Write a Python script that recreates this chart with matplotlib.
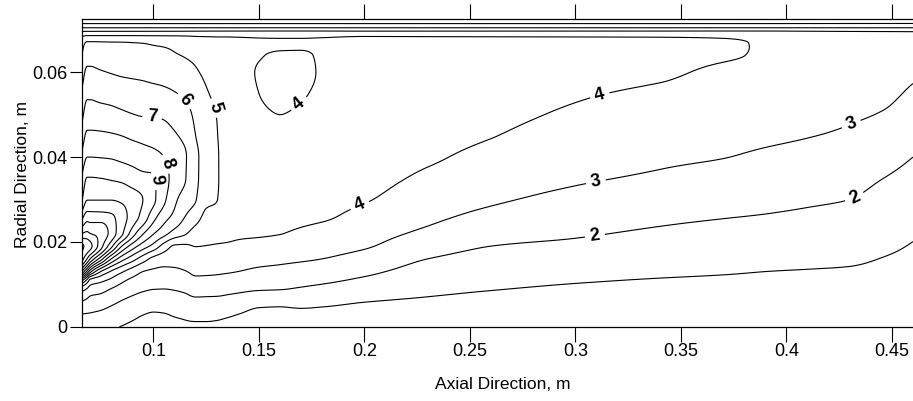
import numpy as np
import matplotlib
matplotlib.use("Agg")
import matplotlib.pyplot as plt

plt.rcParams["font.family"] = ["Liberation Sans", "DejaVu Sans"]

# ── grid nodes (m) ───────────────────────────────────────────────────────
x_nodes = [0.066, 0.0685, 0.070, 0.075, 0.080, 0.085, 0.090, 0.095, 0.100, 0.105,
           0.110, 0.115, 0.120, 0.125, 0.130, 0.135, 0.140, 0.150, 0.160,
           0.170, 0.180, 0.200, 0.230, 0.260, 0.300, 0.340, 0.370, 0.390,
           0.410, 0.430, 0.446, 0.460]
r_nodes = [0.0, 0.003, 0.006, 0.009, 0.011, 0.013, 0.016, 0.019, 0.022,
           0.026, 0.030, 0.035, 0.040, 0.045, 0.050, 0.055, 0.060, 0.064,
           0.067, 0.069, 0.0705, 0.0725]

# ── field values, one list per axial station ─────────────────────────────
col_0660 = [1.5, 2.0, 3.0, 4.5, 7.5, 12.0, 15.5, 16.2, 14.0, 11.6, 9.9, 9.1, 8.2, 7.4, 6.7, 6.1, 5.5, 5.0, 4.6, 3.6, 2.0, 0.0]
col_0685 = [1.47, 1.97, 2.8, 4.0, 5.8, 9.8, 14.0, 15.7, 14.2, 12.5, 10.96, 10.05, 9.0, 8.2, 7.48, 6.81, 6.2, 5.6, 5.08, 3.7, 2.0, 0.0]
col_0700 = [1.45, 1.95, 2.64, 3.65, 4.8, 8.4, 13.0, 15.3, 14.0, 12.46, 10.96, 10.05, 9.0, 8.2, 7.48, 6.81, 6.2, 5.6, 5.08, 3.7, 2.0, 0.0]
col_0750 = [1.3, 1.83, 2.5, 3.4, 4.29, 6.0, 10.5, 13.4, 13.75, 12.4, 10.96, 10.0, 8.97, 8.17, 7.43, 6.67, 6.07, 5.5, 5.06, 3.7, 2.0, 0.0]
col_0800 = [1.1, 1.63, 2.23, 3.0, 3.8, 4.88, 8.0, 11.3, 12.6, 12.15, 10.96, 9.9, 8.92, 8.11, 7.32, 6.6, 5.96, 5.47, 5.04, 3.7, 2.0, 0.0]
col_0850 = [0.97, 1.44, 1.96, 2.65, 3.22, 4.13, 6.42, 9.0, 11.2, 11.5, 10.8, 9.78, 8.77, 8.0, 7.17, 6.5, 5.87, 5.41, 5.03, 3.7, 2.0, 0.0]
col_0900 = [0.8, 1.24, 1.75, 2.35, 2.81, 3.5, 5.43, 7.54, 9.5, 10.5, 10.4, 9.5, 8.62, 7.84, 7.03, 6.42, 5.82, 5.36, 5.0, 3.7, 2.0, 0.0]
col_0950 = [0.65, 1.04, 1.57, 2.15, 2.57, 3.0, 4.5, 6.5, 8.1, 9.67, 10.0, 9.26, 8.44, 7.72, 6.94, 6.35, 5.77, 5.3, 4.97, 3.7, 2.0, 0.0]
col_1000 = [0.55, 0.93, 1.47, 2.04, 2.44, 2.84, 3.73, 5.67, 7.07, 8.38, 9.2, 9.1, 8.3, 7.6, 6.94, 6.3, 5.67, 5.22, 4.9, 3.7, 2.0, 0.0]
col_1050 = [0.6, 0.97, 1.49, 2.02, 2.4, 2.77, 3.45, 4.6, 6.33, 7.4, 8.2, 8.45, 8.0, 7.43, 6.85, 6.2, 5.62, 5.17, 4.85, 3.7, 2.0, 0.0]
col_1100 = [0.7, 1.1, 1.58, 2.07, 2.4, 2.82, 3.36, 3.9, 5.6, 6.75, 7.2, 7.55, 7.4, 7.1, 6.6, 6.05, 5.5, 5.06, 4.8, 3.7, 2.0, 0.0]
col_1150 = [0.8, 1.19, 1.68, 2.19, 2.58, 2.96, 3.42, 3.88, 5.11, 6.0, 6.57, 7.05, 7.08, 6.8, 6.35, 5.84, 5.32, 4.95, 4.7, 3.7, 2.0, 0.0]
col_1200 = [0.75, 1.35, 1.8, 2.45, 2.85, 3.15, 3.6, 4.02, 4.6, 5.4, 6.05, 6.2, 6.2, 6.0, 5.8, 5.5, 5.1, 4.8, 4.5, 3.7, 2.0, 0.0]
col_1250 = [0.75, 1.35, 1.8, 2.4, 2.85, 3.12, 3.55, 3.98, 4.4, 4.8, 5.2, 5.55, 5.6, 5.55, 5.4, 5.1, 4.8, 4.55, 4.4, 3.7, 2.0, 0.0]
col_1300 = [0.7, 1.3, 1.78, 2.38, 2.82, 3.1, 3.52, 3.93, 4.3, 4.7, 5.02, 5.08, 5.08, 5.04, 4.98, 4.75, 4.5, 4.38, 4.32, 3.7, 2.0, 0.0]
col_1350 = [0.55, 1.18, 1.72, 2.28, 2.7, 3.07, 3.48, 3.9, 4.2, 4.45, 4.65, 4.72, 4.72, 4.68, 4.6, 4.45, 4.35, 4.3, 4.3, 3.7, 2.0, 0.0]
col_1400 = [0.45, 1.02, 1.6, 2.22, 2.6, 3.0, 3.42, 3.85, 4.12, 4.35, 4.5, 4.55, 4.55, 4.5, 4.4, 4.3, 4.22, 4.22, 4.25, 3.7, 2.0, 0.0]
col_1500 = [0.4, 0.76, 1.3, 2.1, 2.4, 2.82, 3.3, 3.75, 4.08, 4.25, 4.32, 4.35, 4.3, 4.2, 4.1, 4.0, 3.96, 4.04, 4.15, 3.7, 2.0, 0.0]
col_1600 = [0.4, 0.75, 1.24, 2.06, 2.35, 2.74, 3.2, 3.62, 4.02, 4.18, 4.25, 4.25, 4.18, 4.1, 4.0, 3.87, 3.84, 3.93, 4.12, 3.7, 2.0, 0.0]
col_1700 = [0.4, 0.77, 1.33, 1.94, 2.28, 2.62, 3.11, 3.5, 3.88, 4.15, 4.25, 4.28, 4.22, 4.15, 4.07, 3.95, 3.86, 3.92, 4.12, 3.7, 2.0, 0.0]
col_1800 = [0.4, 0.75, 1.23, 1.81, 2.17, 2.5, 3.0, 3.35, 3.71, 4.1, 4.25, 4.32, 4.3, 4.22, 4.17, 4.12, 4.08, 4.1, 4.18, 3.7, 2.0, 0.0]
col_2000 = [0.4, 0.69, 1.03, 1.53, 1.87, 2.19, 2.68, 3.09, 3.36, 3.73, 4.06, 4.25, 4.38, 4.48, 4.55, 4.6, 4.6, 4.55, 4.45, 3.7, 2.0, 0.0]
col_2300 = [0.4, 0.65, 0.9, 1.2, 1.43, 1.65, 2.0, 2.41, 2.82, 3.2, 3.49, 3.84, 4.12, 4.3, 4.42, 4.5, 4.52, 4.5, 4.4, 3.7, 2.0, 0.0]
col_2600 = [0.4, 0.61, 0.81, 1.04, 1.23, 1.42, 1.71, 2.0, 2.33, 2.78, 3.12, 3.43, 3.74, 4.03, 4.2, 4.3, 4.38, 4.4, 4.35, 3.7, 2.0, 0.0]
col_3000 = [0.4, 0.57, 0.75, 0.92, 1.06, 1.25, 1.54, 1.83, 2.1, 2.43, 2.77, 3.11, 3.37, 3.63, 3.89, 4.07, 4.2, 4.28, 4.3, 3.7, 2.0, 0.0]
col_3400 = [0.4, 0.56, 0.71, 0.87, 0.97, 1.12, 1.37, 1.62, 1.87, 2.18, 2.5, 2.88, 3.15, 3.4, 3.64, 3.88, 4.1, 4.2, 4.25, 3.7, 2.0, 0.0]
col_3700 = [0.4, 0.55, 0.7, 0.84, 0.93, 1.05, 1.27, 1.5, 1.73, 2.04, 2.32, 2.68, 3.02, 3.24, 3.46, 3.67, 3.89, 4.06, 4.12, 3.7, 2.0, 0.0]
col_3900 = [0.4, 0.54, 0.68, 0.82, 0.91, 1.0, 1.22, 1.44, 1.67, 1.96, 2.23, 2.55, 2.87, 3.15, 3.42, 3.65, 3.84, 3.94, 3.92, 3.65, 2.0, 0.0]
col_4100 = [0.4, 0.53, 0.66, 0.79, 0.88, 0.97, 1.16, 1.37, 1.58, 1.86, 2.12, 2.42, 2.73, 3.03, 3.3, 3.55, 3.72, 3.8, 3.8, 3.55, 2.0, 0.0]
col_4300 = [0.4, 0.52, 0.65, 0.77, 0.86, 0.94, 1.1, 1.29, 1.48, 1.74, 2.0, 2.29, 2.57, 2.86, 3.12, 3.35, 3.55, 3.65, 3.65, 3.45, 2.0, 0.0]
col_4460 = [0.35, 0.47, 0.59, 0.70, 0.78, 0.86, 0.98, 1.13, 1.29, 1.5, 1.71, 2.0, 2.31, 2.63, 2.94, 3.2, 3.4, 3.55, 3.6, 3.4, 2.0, 0.0]
col_4600 = [0.3, 0.40, 0.51, 0.61, 0.68, 0.75, 0.86, 0.96, 1.08, 1.29, 1.49, 1.74, 2.0, 2.29, 2.58, 2.87, 3.15, 3.4, 3.5, 3.35, 2.0, 0.0]

labelled_levels = [2, 3, 4, 5, 6, 7, 8, 9]
plain_levels = [1, 10, 11, 12, 13, 14, 15, 16]
x_ticks = [0.1, 0.15, 0.2, 0.25, 0.3, 0.35, 0.4, 0.45]
x_ticklabels = ["0.1", "0.15", "0.2", "0.25", "0.3", "0.35", "0.4", "0.45"]
y_ticks = [0.0, 0.02, 0.04, 0.06]
y_ticklabels = ["0", "0.02", "0.04", "0.06"]

# where the inline labels sit (placement only)
label_spots = [(0.1688, 0.0527), (0.198, 0.0284), (0.312, 0.0538),
               (0.310, 0.0334), (0.431, 0.0475), (0.3095, 0.0206),
               (0.4318, 0.031), (0.1284, 0.0515), (0.1152, 0.0534),
               (0.0994, 0.0495), (0.107, 0.0385), (0.102, 0.0346)]

columns = [col_0660, col_0685, col_0700, col_0750, col_0800, col_0850, col_0900,
           col_0950, col_1000, col_1050, col_1100, col_1150, col_1200, col_1250,
           col_1300, col_1350, col_1400, col_1500, col_1600, col_1700, col_1800,
           col_2000, col_2300, col_2600, col_3000, col_3400, col_3700, col_3900,
           col_4100, col_4300, col_4460, col_4600]
U = np.column_stack(columns)          # (n_r, n_x)


def pchip(xk, yk, xq):
    """Monotone cubic (Fritsch-Carlson) along axis 0 of yk."""
    xk = np.asarray(xk, float)
    h = np.diff(xk)
    delta = np.diff(yk, axis=0) / h[:, None]
    m = np.zeros_like(yk)
    m[0], m[-1] = delta[0], delta[-1]
    w1 = (2 * h[1:] + h[:-1])[:, None]
    w2 = (h[1:] + 2 * h[:-1])[:, None]
    d0, d1 = delta[:-1], delta[1:]
    same = d0 * d1 > 0
    with np.errstate(divide="ignore", invalid="ignore"):
        hm = (w1 + w2) / (w1 / d0 + w2 / d1)
    m[1:-1] = np.where(same, hm, 0.0)
    i = np.clip(np.searchsorted(xk, xq) - 1, 0, len(xk) - 2)
    t = ((xq - xk[i]) / h[i])[:, None]
    hh = h[i][:, None]
    h00 = 2 * t**3 - 3 * t**2 + 1
    h10 = t**3 - 2 * t**2 + t
    h01 = -2 * t**3 + 3 * t**2
    h11 = t**3 - t**2
    return h00 * yk[i] + h10 * hh * m[i] + h01 * yk[i + 1] + h11 * hh * m[i + 1]


r_fine = np.linspace(r_nodes[0], r_nodes[-1], 400)
x_fine = np.linspace(x_nodes[0], x_nodes[-1], 900)
U_r = pchip(r_nodes, U, r_fine)             # (400, n_x)
U_f = pchip(x_nodes, U_r.T, x_fine).T       # (400, 900)

fig = plt.figure(figsize=(9.13, 4.01), dpi=100)
ax = fig.add_axes([0.0895, 0.1853, 0.9105, 0.7666])

ax.contour(x_fine, r_fine, U_f, levels=plain_levels, colors="k", linewidths=0.8)
cs = ax.contour(x_fine, r_fine, U_f, levels=labelled_levels, colors="k", linewidths=0.8)
texts = ax.clabel(cs, manual=label_spots, inline=True, fmt="%d", fontsize=13)
for t in texts:
    t.set_fontweight("bold")

ax.set_xlim(0.066, 0.46)
ax.set_ylim(0.0, 0.0725)
ax.set_xticks(x_ticks)
ax.set_xticklabels(x_ticklabels)
ax.set_yticks(y_ticks)
ax.set_yticklabels(y_ticklabels)
ax.tick_params(axis="x", direction="out", length=11, width=0.8, top=True,
               labeltop=False, labelsize=13, pad=1)
ax.tick_params(axis="y", direction="out", length=9, width=0.8, right=False,
               labelsize=13, pad=1)
ax.spines["right"].set_visible(False)
for s in ("left", "bottom", "top"):
    ax.spines[s].set_linewidth(0.9)

ax.set_xlabel("Axial Direction, m", fontsize=12.5)
ax.set_ylabel("Radial Direction, m", fontsize=12.5)
ax.xaxis.set_label_coords(0.5065, -0.165)
ax.yaxis.set_label_coords(-0.0625, 0.494)

fig.savefig("out.png", dpi=100)
